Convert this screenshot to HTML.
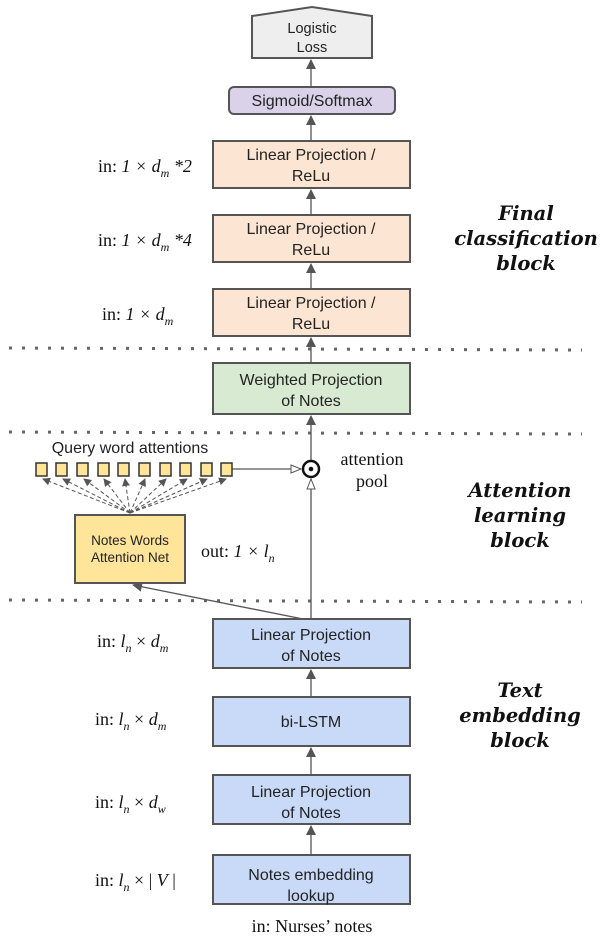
<!DOCTYPE html>
<html><head><meta charset="utf-8"><style>
html,body{margin:0;padding:0;background:#fff;width:604px;height:951px;overflow:hidden}
svg{display:block}
.s{font-family:"Liberation Sans",sans-serif;font-size:16px;fill:#222;text-anchor:middle}
.r{font-family:"Liberation Serif","DejaVu Serif",serif;font-size:18px;fill:#111}
.i{font-style:italic}
.b{font-family:"DejaVu Serif","Liberation Serif",serif;font-weight:bold;font-style:italic;font-size:19.5px;fill:#111;text-anchor:middle}
.sub{font-size:12px}
</style></head><body>
<svg width="604" height="951" viewBox="0 0 604 951" xmlns="http://www.w3.org/2000/svg">
<defs>
<marker id="a" markerWidth="10" markerHeight="10" refX="9" refY="5" orient="auto" markerUnits="userSpaceOnUse"><path d="M0,0 L10,5 L0,10 z" fill="#555"/></marker>
<marker id="h" markerWidth="12" markerHeight="10" refX="11" refY="5" orient="auto" markerUnits="userSpaceOnUse"><path d="M1,1 L11,5 L1,9 z" fill="#fff" stroke="#555" stroke-width="1"/></marker>
<marker id="d" markerWidth="8" markerHeight="8" refX="7" refY="4" orient="auto" markerUnits="userSpaceOnUse"><path d="M0,0 L8,4 L0,8 z" fill="#555"/></marker>
</defs>
<g stroke="#666" stroke-width="3" stroke-dasharray="3,10">
<line x1="9" y1="348" x2="582" y2="350"/>
<line x1="9" y1="432" x2="582" y2="434"/>
<line x1="9" y1="600" x2="582" y2="602"/>
</g>
<g stroke="#555" stroke-width="1.3" fill="none">
<line x1="311" y1="87" x2="311" y2="60" marker-end="url(#a)"/>
<line x1="311" y1="141" x2="311" y2="116" marker-end="url(#a)"/>
<line x1="311" y1="215" x2="311" y2="190" marker-end="url(#a)"/>
<line x1="311" y1="289" x2="311" y2="264" marker-end="url(#a)"/>
<line x1="311" y1="363" x2="311" y2="338" marker-end="url(#a)"/>
<line x1="311" y1="460" x2="311" y2="416" marker-end="url(#a)"/>
<line x1="311" y1="619" x2="311" y2="479" marker-end="url(#h)"/>
<line x1="232" y1="469" x2="301" y2="469" marker-end="url(#h)"/>
<line x1="303" y1="619" x2="133" y2="585" marker-end="url(#a)"/>
<line x1="311" y1="697" x2="311" y2="670" marker-end="url(#a)"/>
<line x1="311" y1="775" x2="311" y2="748" marker-end="url(#a)"/>
<line x1="311" y1="855" x2="311" y2="826" marker-end="url(#a)"/>
</g>
<g stroke="#555" stroke-width="1" stroke-dasharray="4,2.5" fill="none">
<line x1="130" y1="513" x2="43" y2="479" marker-end="url(#d)"/>
<line x1="130" y1="513" x2="63" y2="479" marker-end="url(#d)"/>
<line x1="130" y1="513" x2="84" y2="479" marker-end="url(#d)"/>
<line x1="130" y1="513" x2="104" y2="479" marker-end="url(#d)"/>
<line x1="130" y1="513" x2="125" y2="479" marker-end="url(#d)"/>
<line x1="130" y1="513" x2="145" y2="479" marker-end="url(#d)"/>
<line x1="130" y1="513" x2="166" y2="479" marker-end="url(#d)"/>
<line x1="130" y1="513" x2="187" y2="479" marker-end="url(#d)"/>
<line x1="130" y1="513" x2="207" y2="479" marker-end="url(#d)"/>
<line x1="130" y1="513" x2="226" y2="479" marker-end="url(#d)"/>
</g>
<path d="M252,16 L312,7 L372,16 L372,58 L252,58 Z" fill="#eeeeee" stroke="#555" stroke-width="2"/>
<text class="s" x="312" y="33" style="font-size:14.5px">Logistic</text>
<text class="s" x="312" y="52" style="font-size:14.5px">Loss</text>
<rect x="229" y="87" width="166" height="27" rx="5" fill="#d9d2e9" stroke="#555" stroke-width="2"/>
<text class="s" x="312" y="106">Sigmoid/Softmax</text>
<g fill="#fde5d3" stroke="#555" stroke-width="2">
<rect x="213" y="141" width="197" height="47"/>
<rect x="213" y="215" width="197" height="47"/>
<rect x="213" y="289" width="197" height="47"/>
</g>
<text class="s" x="311" y="160">Linear Projection /</text><text class="s" x="311" y="181">ReLu</text>
<text class="s" x="311" y="234">Linear Projection /</text><text class="s" x="311" y="255">ReLu</text>
<text class="s" x="311" y="308">Linear Projection /</text><text class="s" x="311" y="329">ReLu</text>
<rect x="213" y="363" width="197" height="51" fill="#d9ead3" stroke="#555" stroke-width="2"/>
<text class="s" x="311" y="385">Weighted Projection</text><text class="s" x="311" y="406">of Notes</text>
<text class="s" x="130" y="453">Query word attentions</text>
<g fill="#ffe599" stroke="#333" stroke-width="1.5">
<rect x="36" y="463" width="11" height="13"/><rect x="56" y="463" width="11" height="13"/><rect x="77" y="463" width="11" height="13"/><rect x="98" y="463" width="11" height="13"/><rect x="118" y="463" width="11" height="13"/><rect x="139" y="463" width="11" height="13"/><rect x="160" y="463" width="11" height="13"/><rect x="180" y="463" width="11" height="13"/><rect x="201" y="463" width="11" height="13"/><rect x="221" y="463" width="11" height="13"/>
</g>
<circle cx="311" cy="469" r="8" fill="#fff" stroke="#111" stroke-width="2.5"/>
<circle cx="311" cy="469" r="2.3" fill="#111"/>
<text class="r" x="372" y="465" text-anchor="middle">attention</text>
<text class="r" x="372" y="487" text-anchor="middle">pool</text>
<rect x="75" y="515" width="110" height="68" fill="#ffe599" stroke="#555" stroke-width="2"/>
<text class="s" x="130" y="545" style="font-size:13.5px">Notes Words</text>
<text class="s" x="130" y="562" style="font-size:13.5px">Attention Net</text>
<text class="r" x="201" y="557">out: <tspan class="i">1 × l</tspan><tspan class="sub i" dy="5">n</tspan></text>
<g fill="#c9daf8" stroke="#555" stroke-width="2">
<rect x="213" y="619" width="197" height="49"/>
<rect x="213" y="697" width="197" height="49"/>
<rect x="213" y="775" width="197" height="49"/>
<rect x="213" y="855" width="197" height="49"/>
</g>
<text class="s" x="311" y="640">Linear Projection</text><text class="s" x="311" y="661">of Notes</text>
<text class="s" x="311" y="727">bi-LSTM</text>
<text class="s" x="311" y="797">Linear Projection</text><text class="s" x="311" y="818">of Notes</text>
<text class="s" x="311" y="880">Notes embedding</text><text class="s" x="311" y="901">lookup</text>
<text class="r" x="312" y="932" text-anchor="middle">in: Nurses’ notes</text>
<text class="r" x="98" y="172">in: <tspan class="i">1 × d</tspan><tspan class="sub i" dy="5">m</tspan><tspan class="i" dy="-5"> *2</tspan></text>
<text class="r" x="98" y="246">in: <tspan class="i">1 × d</tspan><tspan class="sub i" dy="5">m</tspan><tspan class="i" dy="-5"> *4</tspan></text>
<text class="r" x="102" y="320">in: <tspan class="i">1 × d</tspan><tspan class="sub i" dy="5">m</tspan></text>
<text class="r" x="97" y="647">in: <tspan class="i">l</tspan><tspan class="sub i" dy="5">n</tspan><tspan dy="-5"> × </tspan><tspan class="i">d</tspan><tspan class="sub i" dy="5">m</tspan></text>
<text class="r" x="95" y="725">in: <tspan class="i">l</tspan><tspan class="sub i" dy="5">n</tspan><tspan dy="-5"> × </tspan><tspan class="i">d</tspan><tspan class="sub i" dy="5">m</tspan></text>
<text class="r" x="95" y="808">in: <tspan class="i">l</tspan><tspan class="sub i" dy="5">n</tspan><tspan dy="-5"> × </tspan><tspan class="i">d</tspan><tspan class="sub i" dy="5">w</tspan></text>
<text class="r" x="95" y="886">in: <tspan class="i">l</tspan><tspan class="sub i" dy="5">n</tspan><tspan dy="-5"> × | </tspan><tspan class="i">V</tspan><tspan> |</tspan></text>
<text class="b" x="526" y="220">Final</text>
<text class="b" x="526" y="245">classification</text>
<text class="b" x="526" y="270">block</text>
<text class="b" x="520" y="497">Attention</text>
<text class="b" x="520" y="522">learning</text>
<text class="b" x="520" y="547">block</text>
<text class="b" x="520" y="697">Text</text>
<text class="b" x="520" y="722">embedding</text>
<text class="b" x="520" y="747">block</text>
</svg>
</body></html>
